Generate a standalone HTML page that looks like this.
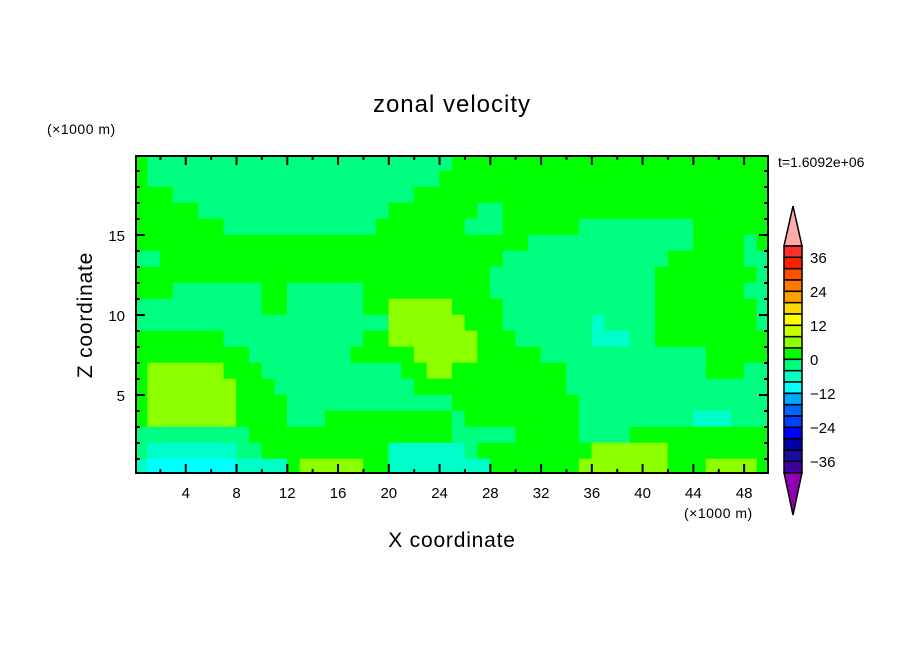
<!DOCTYPE html>
<html><head><meta charset="utf-8"><style>
html,body{margin:0;padding:0;background:#fff;}
svg{display:block;font-family:"Liberation Sans",sans-serif;}
</style></head><body>
<svg id="chart" width="904" height="654" viewBox="0 0 904 654">
<rect width="904" height="654" fill="#fff"/>
<text x="452" y="112" text-anchor="middle" font-size="24" letter-spacing="1">zonal velocity</text>
<text x="47" y="134" font-size="14" letter-spacing="0.5">(×1000 m)</text>
<text x="778" y="167" font-size="14">t=1.6092e+06</text>
<text x="684" y="518" font-size="14" letter-spacing="0.5">(×1000 m)</text>
<text x="452" y="547" text-anchor="middle" font-size="21" letter-spacing="0.8">X coordinate</text>
<text transform="translate(92,315) rotate(-90)" text-anchor="middle" font-size="21" letter-spacing="0.8">Z coordinate</text>
<defs><clipPath id="pc"><rect x="136" y="156" width="632" height="317"/></clipPath></defs>
<g id="field" clip-path="url(#pc)"></g>
<g id="axes"></g>
<g id="cbar"></g>
</svg>
<script>
const xTicks = [4,8,12,16,20,24,28,32,36,40,44,48];
const zTicks = [5,10,15];
const cbarLabels = [36,24,12,0,-12,-24,-36];
const cbarLevels = [40,36,32,28,24,20,16,12,8,4,0,-4,-8,-12,-16,-20,-24,-28,-32,-36,-40];
const cbarColors = ["#ff3030","#ff2000","#ff5000","#ff7800","#ffa000","#ffd700","#ffff00","#ccff00","#8cff00","#00ff00","#00ff80","#00ffc8","#00ffff","#00a8ff","#0064ff","#0040ff","#0000ff","#0000a8","#1a0ca0","#4000a0"];
const classColors = {G:"#00ff00",Y:"#8cff00",S:"#00ff80",A:"#00ffc8",C:"#00ffff"};
// rows from top (z 20..19) to bottom (z 1..0), run-length encoded, 50 cells of 1000 m
const rows = [
"G1S24G25",
"G1S23G26",
"G3S19G28",
"G5S15G7S2G21",
"G7S12G7S3G6S9G6",
"G31S13G4S1G1",
"S2G27S13G6S2",
"G28S13G8S1",
"G3S7G2S6G10S13G7S2",
"S10G2S6G2Y5G4S12G8S1",
"S20Y6G3S7A1S4G8S1",
"G7S11G2Y7G3S6A3S2G9",
"G9S8G5Y5G5S13G5",
"G1Y6G3S11G2Y2G9S11G3S2",
"G1Y7G3S11G12S16",
"G1Y7G4S13G10S15",
"G1Y7G4S3G10S1G9S9A3S3",
"S9G16S5G5S4G11",
"S1A7S2G10A6S1G9Y6G8",
"A1C7A4G1Y5G2A8G7Y7G3Y4G1"
];
const NS="http://www.w3.org/2000/svg";
const X0=135, XS=12.69, Y0=475, ZS=16;
function xs(v){return X0+XS*v;}
function zs(v){return Y0-ZS*v;}
function mk(tag,attrs,parent){const e=document.createElementNS(NS,tag);for(const k in attrs)e.setAttribute(k,attrs[k]);parent.appendChild(e);return e;}
function decode(s){const out=[];const re=/([A-Z])(\d+)/g;let m;while((m=re.exec(s))){for(let i=0;i<+m[2];i++)out.push(m[1]);}return out;}
const field=document.getElementById('field');
rows.forEach((r,ri)=>{
  const cells=decode(r);
  const zTop=20-ri, zBot=19-ri;
  let start=0;
  for(let c=1;c<=cells.length;c++){
    if(c===cells.length||cells[c]!==cells[start]){
      const rc=mk('rect',{x:xs(start)-0.3,y:zs(zTop)-0.3,width:xs(c)-xs(start)+0.6,height:zs(zBot)-zs(zTop)+0.6,fill:classColors[cells[start]]},field);
      
      
      start=c;
    }
  }
});
const ax=document.getElementById('axes');
const frame=mk('rect',{x:136,y:156,width:632,height:317,fill:"none",stroke:"#000","stroke-width":2},ax);


for(let v=2;v<50;v+=2){
  const major=xTicks.includes(v);const L=major?9:4;
  mk('line',{x1:xs(v),x2:xs(v),y1:473,y2:473-L,stroke:"#000","stroke-width":2},ax);
  mk('line',{x1:xs(v),x2:xs(v),y1:156,y2:156+L,stroke:"#000","stroke-width":2},ax);
}
for(let v=1;v<20;v++){
  const major=zTicks.includes(v);const L=major?9:4;
  mk('line',{x1:136,x2:136+L,y1:zs(v),y2:zs(v),stroke:"#000","stroke-width":2},ax);
  mk('line',{x1:768,x2:768-L,y1:zs(v),y2:zs(v),stroke:"#000","stroke-width":2},ax);
}
xTicks.forEach(v=>{
  const t=mk('text',{x:xs(v),y:498,"text-anchor":"middle","font-size":15},ax);t.textContent=v;
  
  
});
zTicks.forEach(v=>{
  const t=mk('text',{x:125,y:zs(v)+6,"text-anchor":"end","font-size":15},ax);t.textContent=v;
  
  
});
const cb=document.getElementById('cbar');
const CT=246, CB=472.7, CX=784, CW=18;
function cy(v){return CT+(cbarLevels[0]-v)/(cbarLevels[0]-cbarLevels[cbarLevels.length-1])*(CB-CT);}
const tt=mk('polygon',{points:`${CX},${CT} ${CX+CW},${CT} ${CX+CW/2},206`,fill:"#ffaaaa",stroke:"#000","stroke-width":1.5},cb);


const bt=mk('polygon',{points:`${CX},${CB} ${CX+CW},${CB} ${CX+CW/2},515`,fill:"#9000b0",stroke:"#000","stroke-width":1.5},cb);


cbarColors.forEach((c,i)=>{
  const r=mk('rect',{x:CX,y:cy(cbarLevels[i]),width:CW,height:cy(cbarLevels[i+1])-cy(cbarLevels[i]),fill:c,stroke:"#000","stroke-width":1.5},cb);
  
  
});
cbarLabels.forEach(v=>{
  const t=mk('text',{x:810,y:cy(v)+5.5,"font-size":15},cb);t.textContent=(v<0?"\u2212"+(-v):v);
  
  
});
</script>
</body></html>
